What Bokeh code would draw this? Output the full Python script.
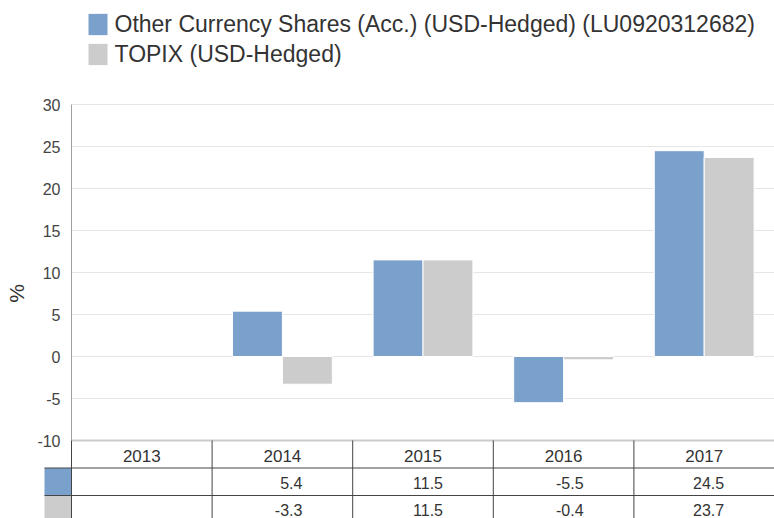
import numpy as np
from bokeh.plotting import figure
from bokeh.models import ColumnDataSource, Range1d, FixedTicker, Legend
from bokeh.transform import dodge
from bokeh.core.properties import value
from bokeh.embed import file_html
from bokeh.resources import INLINE

# ---------------- data ----------------
years = ["2013", "2014", "2015", "2016", "2017"]
fund = [np.nan, 5.4, 11.5, -5.5, 24.5]
topix = [np.nan, -3.3, 11.5, -0.4, 23.7]
fund_name = "Other Currency Shares (Acc.) (USD-Hedged) (LU0920312682)"
topix_name = "TOPIX (USD-Hedged)"
y_ticks = [-10, -5, 0, 5, 10, 15, 20, 25, 30]
y_label = "%"

BLUE = "#7aa0cc"
GREY = "#cccccc"
FONT = "Liberation Sans"
TXT = "#333333"
RULE = "#444444"

n = len(years)
xc = np.arange(n) + 0.5
src = ColumnDataSource(dict(x=xc, fund=fund, topix=topix))

# ---------------- layout constants (pixels) ----------------
W, H = 774, 518
axis_x = 71                 # pixel position of the value axis
frame_left = 0
y30_px = 104                # pixel row of the top tick
ppu = 8.4                   # px per y unit
cw = (W - axis_x) / n       # px per category
rh = 27.5 / ppu             # table row height in y units
sw = 27 / cw                # table swatch width in x units

ymax, ymin = max(y_ticks), min(y_ticks)
y_end = ymax + y30_px / ppu
y_start = ymax - (H - y30_px) / ppu

p = figure(width=W, height=H, output_backend="svg", toolbar_location=None,
           x_range=Range1d(-(axis_x - frame_left) / cw, n),
           y_range=Range1d(y_start, y_end),
           x_axis_location=None, min_border_left=frame_left, min_border_right=0,
           min_border_top=0, min_border_bottom=0)
p.outline_line_color = None
p.grid.visible = False

ax = p.yaxis[0]
ax.fixed_location = 0
ax.ticker = FixedTicker(ticks=y_ticks)
ax.bounds = (ymin - 5, ymax)
ax.axis_line_color = None
ax.major_tick_line_color = None
ax.minor_tick_line_color = None
ax.major_label_text_font = FONT
ax.major_label_text_font_size = "16px"
ax.major_label_text_color = "#444444"
ax.major_label_standoff = 5
ax.major_label_overrides = {t: str(t) for t in y_ticks}
ax.axis_label = y_label
ax.axis_label_text_font = FONT
ax.axis_label_text_font_size = "21px"
ax.axis_label_text_font_style = "normal"
ax.axis_label_text_color = TXT
ax.axis_label_standoff = 6

# gridlines and axis rule
p.segment(x0=[0] * len(y_ticks), x1=[n] * len(y_ticks), y0=y_ticks, y1=y_ticks,
          line_color="#e6e6e6", line_width=1)
p.segment(x0=[0], x1=[0], y0=[ymin], y1=[ymax], line_color="#a0a0a0", line_width=1)

bw = 0.355
r1 = p.vbar(x=dodge("x", -bw / 2, range=p.x_range), top="fund", bottom=0, width=bw,
            source=src, fill_color=BLUE, line_color="white", line_width=1)
r2 = p.vbar(x=dodge("x", bw / 2, range=p.x_range), top="topix", bottom=0, width=bw,
            source=src, fill_color=GREY, line_color="white", line_width=1)

p.segment(x0=[0], x1=[n], y0=[ymin], y1=[ymin], line_color="#cccccc", line_width=2)

legend = Legend(items=[(fund_name, [r1]), (topix_name, [r2])],
                location=(84.5 - frame_left, H - (10.2 + 58)))
legend.padding = 0
legend.margin = 0
legend.border_line_color = None
legend.background_fill_alpha = 0
legend.glyph_width = 25
legend.glyph_height = 28
legend.label_height = 28
legend.label_standoff = 5
legend.spacing = 2
legend.label_text_font = FONT
legend.label_text_font_size = "23px"
legend.label_text_color = TXT
p.add_layout(legend, "center")

# ---------------- data table under the chart ----------------
row_top = [ymin - k * rh for k in range(4)]
row_mid = [ymin - (k + 0.5) * rh for k in range(3)]

p.quad(left=[-sw] * 2, right=[0, 0], top=row_top[1:3], bottom=row_top[2:4],
       fill_color=[BLUE, GREY], line_color=None)

vx = list(range(n))
p.segment(x0=vx, x1=vx, y0=[ymin] * n, y1=[y_start] * n, line_color=RULE, line_width=1)
p.segment(x0=[-sw, -sw], x1=[n, n], y0=row_top[1:3], y1=row_top[1:3],
          line_color=RULE, line_width=1)

hdr = ColumnDataSource(dict(x=xc, y=[row_mid[0]] * n, t=years))
p.text(x="x", y="y", text="t", source=hdr, text_align="center", text_baseline="middle",
       y_offset=2, text_font=value(FONT), text_font_size="17px", text_color=TXT)


def fmt(v):
    return "" if np.isnan(v) else f"{v:.1f}"


vals = ColumnDataSource(dict(x=list(xc) * 2, y=[row_mid[1]] * n + [row_mid[2]] * n,
                             t=[fmt(v) for v in fund] + [fmt(v) for v in topix]))
p.text(x="x", y="y", text="t", source=vals, text_align="right", text_baseline="middle",
       x_offset=20, y_offset=1, text_font=value(FONT), text_font_size="16px", text_color=TXT)

open("out.html", "w").write(file_html(p, INLINE))
